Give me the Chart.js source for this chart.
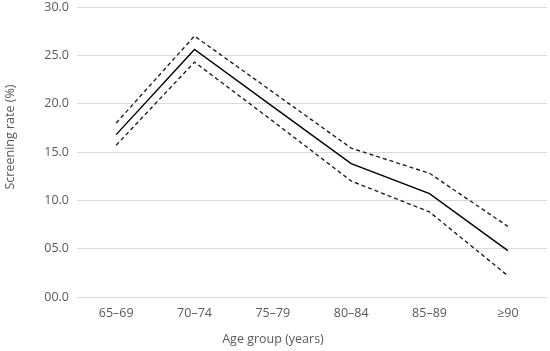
<!DOCTYPE html>
<html lang="en">
<head>
<meta charset="UTF-8">
<title>Screening rate by age group</title>
<script src="https://cdn.jsdelivr.net/npm/chart.js"></script>
<style>
  html, body { margin: 0; padding: 0; background: #fff; }
  #wrap { width: 550px; height: 351px; }
</style>
</head>
<body>
<div id="wrap"><canvas id="rateChart"></canvas></div>
<script>
// chart data
const ageGroups = ['65\u201369', '70\u201374', '75\u201379', '80\u201384', '85\u201389', '\u226590'];
const screeningRate = [16.8, 25.6, 19.7, 13.8, 10.7, 4.8];
const upperCI = [18.0, 27.0, 21.2, 15.4, 12.8, 7.3];
const lowerCI = [15.7, 24.3, 18.2, 12.0, 8.8, 2.2];
const xTitle = 'Age group (years)';
const yTitle = 'Screening rate (%)';

const fontFamily = "'Open Sans', 'Liberation Sans', sans-serif";
const textColor = '#595959';

function lineSet(label, values, dashed) {
    return {
        label: label,
        data: values,
        borderColor: dashed ? '#222' : '#000',
        borderWidth: 1.4,
        borderDash: dashed ? [4, 3] : [],
        pointRadius: 0,
        fill: false,
        tension: 0
    };
}

// axis titles sit off-centre in the original, so draw them ourselves
const axisTitles = {
    id: 'axisTitles',
    afterDraw(chart) {
        const c = chart.ctx;
        c.save();
        c.font = '12.5px ' + fontFamily;
        c.fillStyle = textColor;
        c.textAlign = 'center';
        c.textBaseline = 'middle';
        c.fillText(xTitle, 273, 339);
        c.translate(10, 137);
        c.rotate(-Math.PI / 2);
        c.fillText(yTitle, 0, 0);
        c.restore();
    }
};

const ctx = document.getElementById('rateChart').getContext('2d');
new Chart(ctx, {
    type: 'line',
    data: {
        labels: ageGroups,
        datasets: [
            lineSet('Upper 95% CI', upperCI, true),
            lineSet('Screening rate', screeningRate, false),
            lineSet('Lower 95% CI', lowerCI, true)
        ]
    },
    plugins: [axisTitles],
    options: {
        responsive: true,
        maintainAspectRatio: false,
        animation: false,
        layout: { padding: { left: 8, right: 3, top: 7, bottom: 0 } },
        plugins: {
            legend: { display: false },
            tooltip: { enabled: false }
        },
        scales: {
            x: {
                offset: true,
                grid: { display: false, drawTicks: false },
                border: { display: false },
                ticks: { color: textColor, font: { family: fontFamily, size: 12.5 }, padding: 9 },
                afterFit: function (scale) { scale.height = 54; }
            },
            y: {
                min: 0,
                max: 30,
                grid: { color: '#d9d9d9', lineWidth: 1, drawTicks: false },
                border: { display: false },
                ticks: {
                    stepSize: 5,
                    color: textColor,
                    font: { family: fontFamily, size: 12.5 },
                    padding: 8,
                    callback: function (v) {
                        return (v < 10 ? '0' : '') + v.toFixed(1);
                    }
                },
                afterFit: function (scale) {
                    scale.width = 69;
                    scale.paddingTop = 0;
                    scale.paddingBottom = 0;
                }
            }
        }
    }
});
</script>
</body>
</html>
